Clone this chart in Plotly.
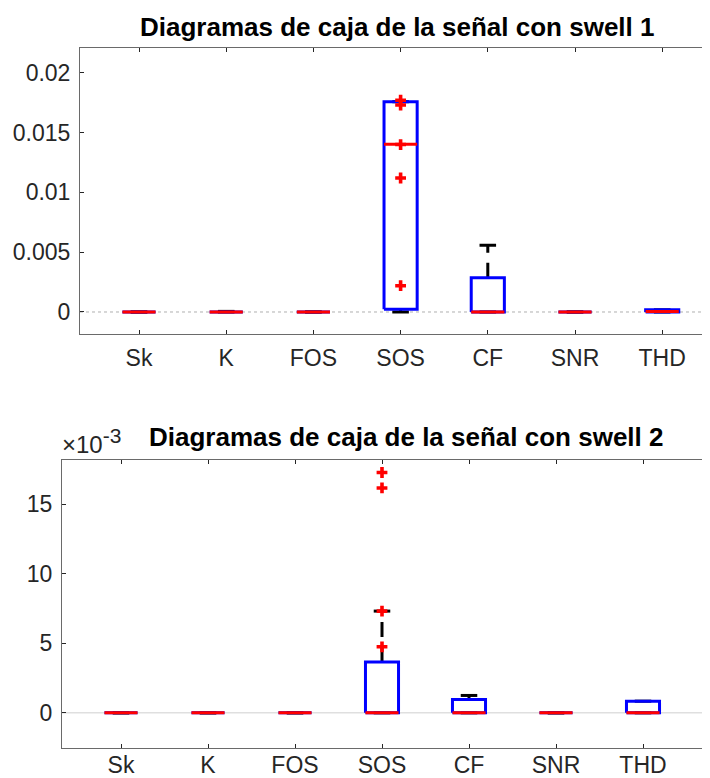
import plotly.graph_objects as go

# The page body has an 8px default margin; the figure is sized to fit inside it.
OFF = 8
W, H = 710 - OFF, 778 - OFF

categories = ["Sk", "K", "FOS", "SOS", "CF", "SNR", "THD"]

# Chart 1 (swell 1) box statistics
q1_1 = [0, 0, 0, 0.00023, 0, 0, 0]
med_1 = [0, 0, 0, 0.01402, 0, 0, 0.00005]
q3_1 = [0, 0.00003, 0, 0.01758, 0.00287, 0, 0.00018]
wlo_1 = [0, 0, 0, 0.0, 0, 0, 0]
whi_1 = [0, 0.00005, 0, 0.01758, 0.00558, 0, 0.00018]
pts_x_1 = ["SOS", "SOS", "SOS", "SOS", "SOS"]
pts_y_1 = [0.0177, 0.0173, 0.0140, 0.0112, 0.0022]

# Chart 2 (swell 2) box statistics, in units of 1e-3
q1_2 = [0, 0, 0, 0, 0, 0, 0]
med_2 = [0, 0, 0, 0, 0, 0, 0]
q3_2 = [0, 0, 0, 3.66, 0.96, 0, 0.84]
wlo_2 = [0, 0, 0, 0, 0, 0, 0]
whi_2 = [0, 0, 0, 7.32, 1.25, 0, 0.84]
pts_x_2 = ["SOS", "SOS", "SOS", "SOS"]
pts_y_2 = [17.29, 16.18, 7.32, 4.75]

titles = ["Diagramas de caja de la señal con swell 1",
          "Diagramas de caja de la señal con swell 2"]

HW = 0.19   # half box width (data units)
CW = 0.095  # half cap width

FONT = "Liberation Sans, Arial, Helvetica, sans-serif"
AX = "#262626"


def px(x):
    return (x - OFF) / W


def py(y):
    return 1 - (y - OFF) / H


fig = go.Figure()


def add_boxes(q1, med, q3, wlo, whi, ptx, pty, xa, ya):
    pos = {c: i + 1 for i, c in enumerate(categories)}
    wx, wy, cx, cy, bx, by, mx, my = [], [], [], [], [], [], [], []
    for i, c in enumerate(categories):
        p = pos[c]
        if whi[i] > q3[i]:
            wx += [p, p, None]; wy += [q3[i], whi[i], None]
        if wlo[i] < q1[i]:
            wx += [p, p, None]; wy += [q1[i], wlo[i], None]
        cx += [p - CW, p + CW, None, p - CW, p + CW, None]
        cy += [whi[i], whi[i], None, wlo[i], wlo[i], None]
        bx += [p - HW, p + HW, p + HW, p - HW, p - HW, None]
        by += [q1[i], q1[i], q3[i], q3[i], q1[i], None]
        mx += [p - HW, p + HW, None]
        my += [med[i], med[i], None]
    common = dict(xaxis=xa, yaxis=ya, mode="lines", showlegend=False, hoverinfo="skip")
    fig.add_trace(go.Scatter(x=wx, y=wy, line=dict(color="black", width=3, dash="15px,10px"), **common))
    fig.add_trace(go.Scatter(x=cx, y=cy, line=dict(color="black", width=3), **common))
    fig.add_trace(go.Scatter(x=bx, y=by, line=dict(color="#0000ff", width=3), **common))
    fig.add_trace(go.Scatter(x=mx, y=my, line=dict(color="#ff0000", width=3), **common))
    fig.add_trace(go.Scatter(x=[pos[c] for c in ptx], y=pty, xaxis=xa, yaxis=ya, mode="markers",
                             marker=dict(symbol="cross", size=9, color="#ff0000"),
                             showlegend=False, hoverinfo="skip"))


add_boxes(q1_1, med_1, q3_1, wlo_1, whi_1, pts_x_1, pts_y_1, "x", "y")
add_boxes(q1_2, med_2, q3_2, wlo_2, whi_2, pts_x_2, pts_y_2, "x2", "y2")

# Geometry in screenshot pixels
top_l, top_r, top_t, top_b = 80, 710, 48, 334
bot_l, bot_r, bot_t, bot_b = 62, 705, 460, 748
spacing1 = 87.2
spacing2 = 87.0
x0_1 = 1 - (139 - top_l) / spacing1
x1_1 = x0_1 + (top_r - top_l) / spacing1
x0_2 = 1 - (121 - bot_l) / spacing2
x1_2 = x0_2 + (bot_r - bot_l) / spacing2

tickfont = dict(family=FONT, size=23, color=AX)
xcommon = dict(tickmode="array", tickvals=list(range(1, 8)), ticktext=categories,
               ticks="inside", ticklen=4, tickcolor=AX, showline=True, linecolor="#6a6a6a",
               linewidth=1, showgrid=False, zeroline=False, tickfont=tickfont)
ycommon = dict(ticks="inside", ticklen=4, tickcolor=AX, showline=True, linecolor="#6a6a6a",
               linewidth=1, showgrid=False, zeroline=False, tickfont=tickfont,
               ticklabelstandoff=4)

fig.update_layout(
    width=W, height=H, margin=dict(l=0, r=0, t=0, b=0),
    paper_bgcolor="white", plot_bgcolor="white",
    xaxis=dict(domain=[px(top_l), 1.0], range=[x0_1, x1_1], anchor="y",
               mirror="ticks", ticklabelstandoff=3, **xcommon),
    yaxis=dict(domain=[py(top_b), py(top_t)], range=[-0.00184, 0.02207], anchor="x",
               tickvals=[0, 0.005, 0.01, 0.015, 0.02],
               ticktext=["0", "0.005", "0.01", "0.015", "0.02"], **ycommon),
    xaxis2=dict(domain=[px(bot_l), px(bot_r)], range=[x0_2, x1_2], anchor="y2",
                mirror="ticks", ticklabelstandoff=-4, **xcommon),
    yaxis2=dict(domain=[py(bot_b), py(bot_t)], range=[-2.53, 18.19], anchor="x2",
                tickvals=[0, 5, 10, 15], ticktext=["0", "5", "10", "15"],
                mirror=True, **ycommon),
)

# zero reference lines
fig.add_shape(type="line", xref="x domain", yref="y", x0=0, x1=1, y0=0, y1=0,
              line=dict(color="#b0b0b0", width=1, dash="dot"), layer="below")
fig.add_shape(type="line", xref="x2 domain", yref="y2", x0=0, x1=1, y0=0, y1=0,
              line=dict(color="#cfcfcf", width=1), layer="below")

fig.add_annotation(text="<b>" + titles[0] + "</b>", xref="paper", yref="paper",
                   x=px(397), y=py(27), showarrow=False,
                   font=dict(family=FONT, size=26, color="black"), xanchor="center", yanchor="middle")
fig.add_annotation(text="<b>" + titles[1] + "</b>", xref="paper", yref="paper",
                   x=px(406), y=py(437), showarrow=False,
                   font=dict(family=FONT, size=26, color="black"), xanchor="center", yanchor="middle")
fig.add_annotation(text="×10<sup><span style='font-size:21px'>-3</span></sup>",
                   xref="paper", yref="paper",
                   x=px(60), y=py(441), showarrow=False,
                   font=dict(family=FONT, size=24, color=AX), xanchor="left", yanchor="middle")

fig.write_html("out.html")
